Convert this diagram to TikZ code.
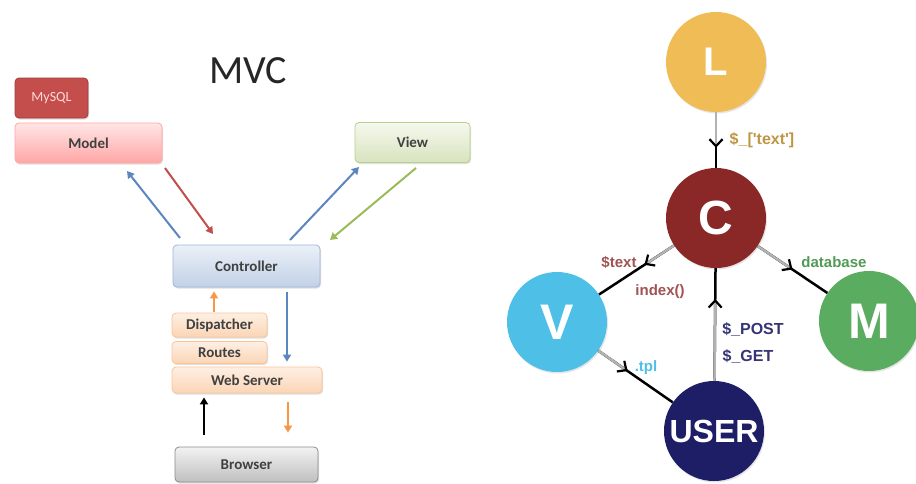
\documentclass[tikz,border=0pt]{standalone}
\usepackage{fontspec}
\setmainfont{Carlito}
\newfontfamily\arialf{Liberation Sans}
\usetikzlibrary{arrows.meta,calc,shadows}
\definecolor{mysqlc}{HTML}{C44E4B}
\definecolor{blueA}{HTML}{5B86BE}
\definecolor{redA}{HTML}{C0504D}
\definecolor{greenA}{HTML}{9BBB59}
\definecolor{orangeA}{HTML}{F79646}
\definecolor{Lc}{HTML}{EFBC55}
\definecolor{Cc}{HTML}{8A2828}
\definecolor{Vc}{HTML}{4EC0E8}
\definecolor{Mc}{HTML}{5AAC60}
\definecolor{Uc}{HTML}{1E1E66}
\tikzset{
  box/.style={draw, rounded corners=4pt, line width=0.8pt, inner sep=0pt,
    font=\fontsize{15}{17}\selectfont\bfseries, text=black!75,
    drop shadow={shadow xshift=1pt,shadow yshift=-1.5pt,opacity=.25}},
  pinkbox/.style={box, draw=red!35, top color=red!10, bottom color=red!35},
  greenbox/.style={box, draw=greenA!70, top color=greenA!10, bottom color=greenA!40},
  bluebox/.style={box, draw=blueA!60, top color=blueA!12, bottom color=blueA!38},
  orangebox/.style={box, draw=orangeA!55, top color=orangeA!15, bottom color=orangeA!40},
  graybox/.style={box, draw=black!45, top color=black!5, bottom color=black!25},
  arr/.style={line width=2pt, -{Triangle[length=7pt,width=8pt]}},
  circ/.style={circle, minimum size=100pt, inner sep=0pt, text=white,
    font=\arialf\bfseries, drop shadow={shadow xshift=1pt,shadow yshift=-1.5pt,opacity=.2}},
  conn/.style={line width=2.5pt, black},
  conng/.style={line width=2.5pt, black!30, -{Straight Barb[black,length=7pt,width=13pt,line width=2.2pt]}},
  lbl/.style={font=\arialf\bfseries\fontsize{15}{17}\selectfont, inner sep=0pt}
}
\begin{document}
\begin{tikzpicture}[x=1pt,y=-1pt]
\useasboundingbox[fill=white] (0,0) rectangle (916,483);
% ---------- left: MVC ----------
\node[font=\fontsize{40}{40}\selectfont, text=black!85, anchor=base] (title) at (248,83) {MVC};
\node[box, draw=mysqlc!80!black, fill=mysqlc, minimum width=73pt, minimum height=40pt,
      font=\fontsize{14}{16}\selectfont, text=red!15] (mysql) at (51.5,98) {MySQL};
\node[pinkbox, minimum width=147pt, minimum height=40pt] (model) at (88.5,143) {Model};
\node[greenbox, minimum width=115pt, minimum height=40pt] (view) at (412.5,142.5) {View};
\node[bluebox, minimum width=147pt, minimum height=42pt] (ctl) at (246.5,266) {Controller};
\node[orangebox, minimum width=95pt, minimum height=24pt] (disp) at (219.5,325) {Dispatcher};
\node[orangebox, minimum width=95pt, minimum height=22pt] (routes) at (219.5,352.5) {Routes};
\node[orangebox, minimum width=150pt, minimum height=26pt] (web) at (247,380) {Web Server};
\node[graybox, minimum width=143pt, minimum height=35pt] (browser) at (246.5,464.5) {Browser};

\coordinate (b1s) at (180,238); \coordinate (b1e) at (127,171);
\coordinate (r1s) at (165,168); \coordinate (r1e) at (213,234);
\coordinate (b2s) at (290,240); \coordinate (b2e) at (359,167);
\coordinate (g1s) at (416,168); \coordinate (g1e) at (330,240);
\draw[arr, blueA] (b1s) -- (b1e);
\draw[arr, redA] (r1s) -- (r1e);
\draw[arr, blueA] (b2s) -- (b2e);
\draw[arr, greenA] (g1s) -- (g1e);
\draw[arr, orangeA] ([yshift=1pt]disp.north -| 214,0) -- ([yshift=-4pt]ctl.south -| 214,0);
\draw[arr, blueA] ([yshift=-5pt]ctl.south -| 287,0) -- ([yshift=5pt]web.north -| 287,0);
\draw[arr, black] ([yshift=12pt]browser.north -| 204,0) -- ([yshift=-4pt]web.south -| 204,0);
\draw[arr, orangeA] ([yshift=-9pt]web.south -| 288,0) -- ([yshift=14pt]browser.north -| 288,0);

% ---------- right: LCVM ----------
\node[circ, fill=Lc] (L) at (716,62) {\fontsize{40}{40}\selectfont L};
\node[circ, fill=Cc] (C) at (716,218) {\fontsize{48}{48}\selectfont C};
\node[circ, fill=Vc] (V) at (557,322) {\fontsize{50}{50}\selectfont V};
\node[circ, fill=Mc] (M) at (869,321) {\fontsize{50}{50}\selectfont M};
\node[circ, fill=Uc] (U) at (714,431) {\fontsize{32}{32}\selectfont USER};

\draw[conn] (L) -- (C);
\draw[conng] (L) -- ($(L)!0.55!(C)$);
\draw[conn] (C) -- (V);
\draw[conng] (C) -- ($(C)!0.45!(V)$);
\draw[conn] (C) -- (M);
\draw[conng] (C) -- ($(C)!0.5!(M)$);
\draw[conn] (U) -- (C);
\draw[conng] (U) -- ($(U)!0.62!(C)$);
\draw[conn] (V) -- (U);
\draw[conng] (V) -- ($(V)!0.45!(U)$);

\node[lbl, text=Lc!80!black, font=\arialf\bfseries\fontsize{16}{18}\selectfont] (lt) at (762,140) {\$\_['text']};
\node[lbl, text=Cc!80] (ltext) at (619,262) {\$text};
\node[lbl, text=Cc!80] (lindex) at (660,292) {index()};
\node[lbl, text=Mc!90!black] (ldb) at (834,262) {database};
\node[lbl, text=Uc!90, font=\arialf\bfseries\fontsize{16}{18}\selectfont] (lpost) at (753,330) {\$\_POST};
\node[lbl, text=Uc!90, font=\arialf\bfseries\fontsize{16}{18}\selectfont] (lget) at (748,357) {\$\_GET};
\node[lbl, text=Vc] (ltpl) at (646,368) {.tpl};
\end{tikzpicture}
\end{document}
